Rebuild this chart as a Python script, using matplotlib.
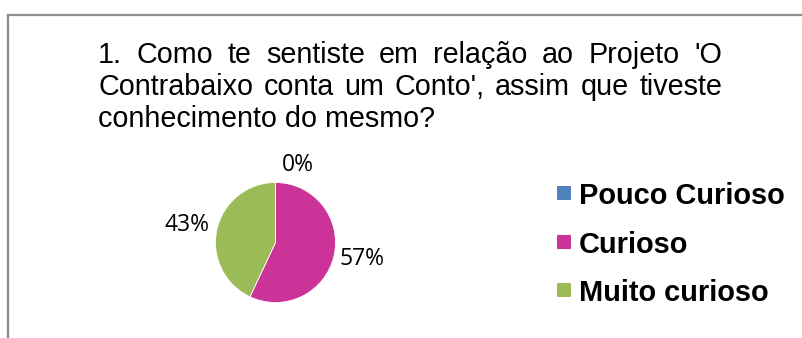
import matplotlib
matplotlib.use("Agg")
import matplotlib.pyplot as plt
from matplotlib.patches import Rectangle
from matplotlib.lines import Line2D

# Survey answers
categories = ["Pouco Curioso", "Curioso", "Muito curioso"]
values = [0, 57, 43]
pct_labels = ["0%", "57%", "43%"]
colors = ["#4F81BD", "#CC3399", "#9BBB59"]

title_lines = [
    "1. Como te sentiste em relação ao Projeto 'O",
    "Contrabaixo conta um Conto', assim que tiveste",
    "conhecimento do mesmo?",
]

W, H = 802, 338
DPI = 100
fig = plt.figure(figsize=(W / DPI, H / DPI), dpi=DPI)
fig.patch.set_facecolor("white")

# chart frame (top and left edges visible)
frame_col = "#8C8C8C"
fig.add_artist(Line2D([8 / W, 1.0], [1 - 15 / H, 1 - 15 / H], color=frame_col, lw=1.6,
                      transform=fig.transFigure))
fig.add_artist(Line2D([8 / W, 8 / W], [0, 1 - 15 / H], color=frame_col, lw=1.6,
                      transform=fig.transFigure))

# justified title
title_font = dict(family="Liberation Sans", size=20.7, color="black")
x_left, x_right = 98, 722
baselines = [63, 95, 127]
renderer = fig.canvas.get_renderer()


def text_width(s):
    t = fig.text(0, 0, s, **title_font)
    w = t.get_window_extent(renderer=renderer).width
    t.remove()
    return w


for i, (line, yb) in enumerate(zip(title_lines, baselines)):
    y = 1 - yb / H
    if i < len(title_lines) - 1:
        words = line.split(" ")
        widths = [text_width(w) for w in words]
        gap = (x_right - x_left - sum(widths)) / (len(words) - 1)
        x = x_left
        for w, wd in zip(words, widths):
            fig.text(x / W, y, w, ha="left", va="baseline", **title_font)
            x += wd + gap
    else:
        fig.text(x_left / W, y, line, ha="left", va="baseline", **title_font)

# pie: 60 px radius, centred at (275.5, 242.5)
cx, cy, r = 275.5, 242.5, 60
ax = fig.add_axes([(cx - 2 * r) / W, (H - cy - 2 * r) / H, 4 * r / W, 4 * r / H])
ax.pie(values, colors=colors, startangle=90, counterclock=False, radius=1,
       wedgeprops=dict(edgecolor="white", linewidth=0.6))
ax.set_xlim(-2, 2)
ax.set_ylim(-2, 2)
ax.set_aspect("equal")
ax.axis("off")

label_pos = {"Pouco Curioso": (0.37, 1.29), "Curioso": (1.44, -0.28),
             "Muito curioso": (-1.48, 0.29)}
for cat, lab in zip(categories, pct_labels):
    px, py = label_pos[cat]
    ax.text(px, py, lab, ha="center", va="center", fontsize=16.5,
            family="Open Sans", color="black")

# legend
leg_rows = [193, 242, 290]
for cat, col, yc in zip(categories, colors, leg_rows):
    fig.add_artist(Rectangle((557 / W, 1 - (yc + 7) / H), 14 / W, 14 / H,
                             facecolor=col, edgecolor="none", transform=fig.transFigure))
    fig.text(579 / W, 1 - yc / H, cat, ha="left", va="center_baseline",
             family="Liberation Sans", weight="bold", size=20.9, color="black")

fig.savefig("out.png", dpi=DPI, facecolor="white")
